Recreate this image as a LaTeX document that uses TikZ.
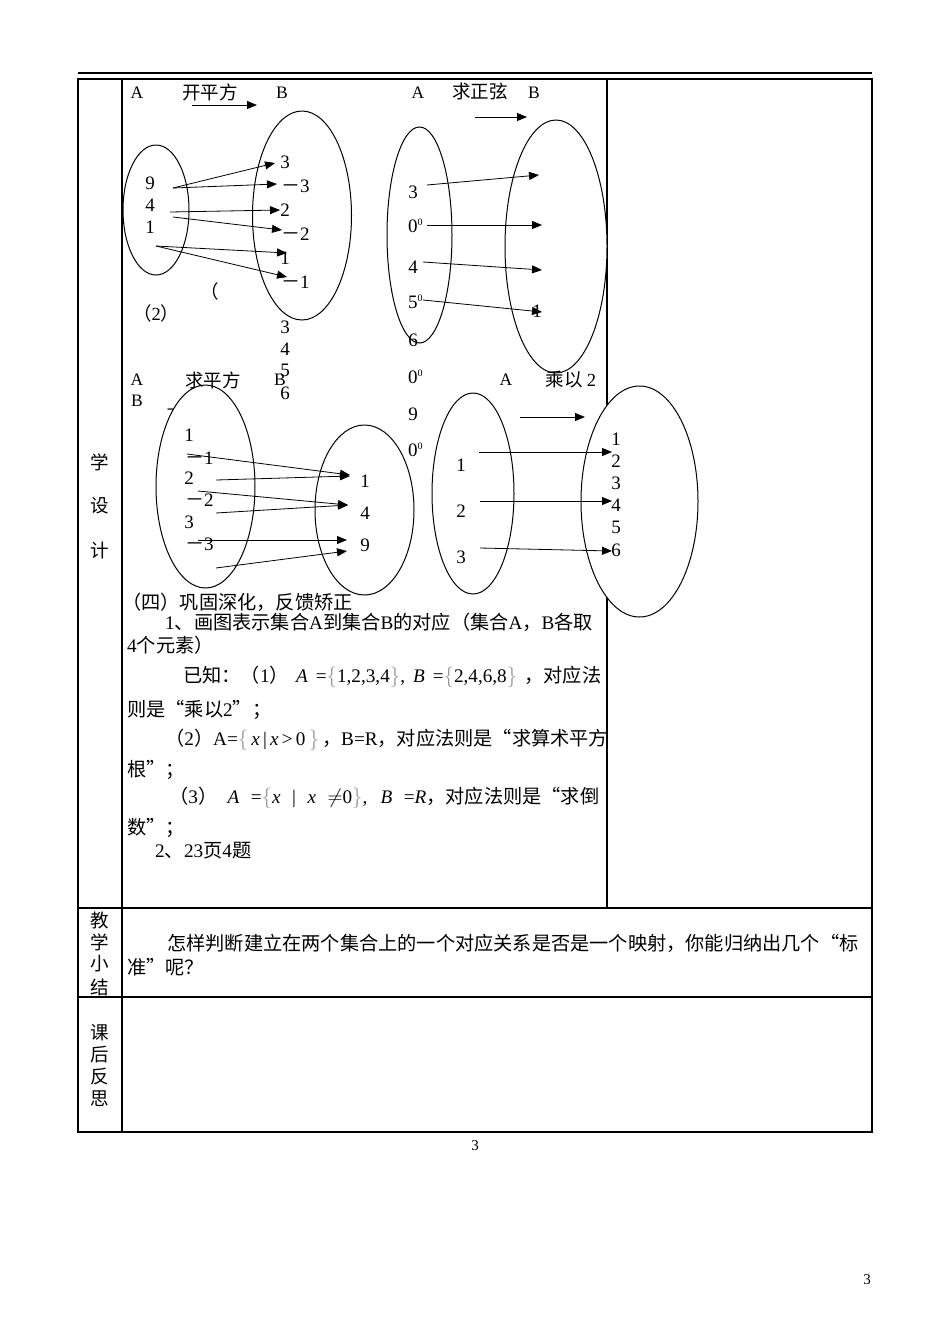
\documentclass[tikz,border=0pt]{standalone}
\usepackage{fontspec}
\setmainfont{Liberation Serif}
\newfontfamily\cjk{Noto Sans CJK SC}
\usetikzlibrary{arrows.meta}
\newcommand{\lat}[1]{{\rmfamily #1}}
\newcommand{\up}[1]{\raisebox{7pt}{\fontsize{10}{10}\selectfont #1}}
\newcommand{\lb}{{\color{black!40}$\bigl\{$}}
\newcommand{\rb}{{\color{black!40}$\bigr\}$}}

\begin{document}
\begin{tikzpicture}[x=1pt,y=-1pt,
  txt/.style={font=\fontsize{19.2}{21}\selectfont\cjk,inner sep=0pt,anchor=west},
  hd/.style={font=\fontsize{18.5}{20}\selectfont\cjk,inner sep=0pt},
  setlbl/.style={font=\fontsize{17.5}{17.5}\selectfont,inner sep=0pt},
  num/.style={font=\fontsize{19}{19}\selectfont,inner sep=0pt},
  neg/.style={num,anchor=west},
  blob/.style={draw,fill=white,line width=1pt},
  ar/.style={-{Triangle[length=10pt,width=8pt]},line width=0.8pt},
  tbl/.style={line width=1.2pt}]
\useasboundingbox (0,0) rectangle (950,1342);

% table frame
\draw[line width=1.8pt] (78,73) -- (872,73);
\draw[tbl] (78,79) rectangle (872,1132);
\draw[tbl] (122,79) -- (122,1132);
\draw[tbl] (607,79) -- (607,908);
\draw[tbl] (78,908) -- (872,908);
\draw[tbl] (78,997) -- (872,997);
\foreach \c/\y [count=\i] in {学/462,设/506,计/550,教/920,学/942,小/964,结/987,课/1033,后/1055,反/1077,思/1099}
  \node[hd] (side\i) at (100,\y) {\c};

% loose text behind the sets
\node[hd,anchor=west] (paren) at (200,291) {（};
\node[hd,anchor=west] (two) at (133,313) {（\lat{2}）};
\foreach \d/\y [count=\i] in {3/327,4/349,5/370,6/393}
  \node[num] (loose\i) at (285,\y) {\d};
\node[hd] (dash) at (175,413) {－};

% sets
\draw[blob] (156,210) ellipse [x radius=33pt,y radius=65pt];
\draw[blob] (302,215.5) ellipse [x radius=49.5pt,y radius=104.5pt];
\draw[blob] (419.5,235) ellipse [x radius=32.5pt,y radius=108pt];
\draw[blob] (556,246.5) ellipse [x radius=51pt,y radius=126.5pt];
\draw[blob] (205.5,486.5) ellipse [x radius=49.5pt,y radius=101.5pt];
\draw[blob] (364.5,510) ellipse [x radius=49.5pt,y radius=85pt];
\draw[blob] (473,493.5) ellipse [x radius=41pt,y radius=100.5pt];
\draw[blob] (639.5,501.5) ellipse [x radius=58.5pt,y radius=115.5pt];

% headings
\node[setlbl] (a1) at (137,93) {A};
\node[hd] (f1) at (210,92) {开平方};
\node[setlbl] (b1) at (282,93) {B};
\node[setlbl] (a2) at (418,93) {A};
\node[hd] (f2) at (480,92) {求正弦};
\node[setlbl] (b2) at (534,93) {B};
\node[setlbl] (a3) at (137,380) {A};
\node[hd] (f3) at (213,380) {求平方};
\node[setlbl] (b3) at (280,380) {B};
\node[setlbl] (b3x) at (137,401) {B};
\node[setlbl] (a4) at (506,380) {A};
\node[hd] (f4) at (571,380) {乘以 \lat{2}};

% map 1
\foreach \d/\y [count=\i] in {9/183,4/205,1/227}
  \node[num] (p\i) at (150,\y) {\d};
\node[num] (q1) at (285,162) {3};
\node[neg] (q2) at (281,186) {{\cjk －}3};
\node[num] (q3) at (285,210) {2};
\node[neg] (q4) at (281,234) {{\cjk －}2};
\node[num] (q5) at (285,258) {1};
\node[neg] (q6) at (281,282) {{\cjk －}1};

% map 2
\node[num] (u1) at (413,192) {3};
\node[num,anchor=west] (u2) at (408,225.5) {0\up{0}};
\node[num] (u3) at (413,267) {4};
\node[num,anchor=west] (u4) at (408,302) {5\up{0}};
\node[num] (u5) at (413,340) {6};
\node[num,anchor=west] (u6) at (408,377) {0\up{0}};
\node[num] (u7) at (413,414) {9};
\node[num,anchor=west] (u8) at (408,450) {0\up{0}};
\node[num] (v1) at (537,311) {1};

% map 3
\node[num] (g1) at (189,435) {1};
\node[neg] (g2) at (185,458) {{\cjk －}1};
\node[num] (g3) at (189,478) {2};
\node[neg] (g4) at (185,500) {{\cjk －}2};
\node[num] (g5) at (189,522) {3};
\node[neg] (g6) at (185,544) {{\cjk －}3};
\foreach \d/\y [count=\i] in {1/481,4/513,9/545}
  \node[num] (h\i) at (365,\y) {\d};

% map 4
\foreach \d/\y [count=\i] in {1/465,2/511,3/557}
  \node[num] (m\i) at (461,\y) {\d};
\foreach \d/\y [count=\i] in {1/439,2/461,3/483,4/505,5/527,6/550}
  \node[num] (n\i) at (616,\y) {\d};

% arrows
\foreach \k/\sx/\sy/\ex/\ey in {
  1/192/105/257/105, 2/173/188/275/163, 3/173/188/277/184, 4/170/212/280/210,
  5/173/217/282/230, 6/156/246/287/253, 7/156/246/287/277,
  8/475/117/527/117, 9/427/185/539/175, 10/427/225/542/225, 11/423/262/542/270,
  12/423/300/542/312,
  13/187/454/350/475, 14/216/480/350/476, 15/198/491/348/505, 16/216/513/348/505,
  17/198/540/347/540, 18/216/568/347/551,
  19/520/417/585/417, 20/479/452/612/452, 21/480/501/612/501, 22/480/548/612/551}
{
  \coordinate (s\k) at (\sx,\sy);
  \coordinate (e\k) at (\ex,\ey);
  \draw[ar] (s\k) -- (e\k);
}

% exercise text
\node[txt] (t1) at (122,602) {（四）巩固深化，反馈矫正};
\node[txt] (t2) at (165,622) {\lat{1}、画图表示集合\lat{A}到集合\lat{B}的对应（集合\lat{A}，\lat{B}各取};
\node[txt] (t3) at (127,645) {\lat{4}个元素）};
\node[txt] (t4) at (183,677) {\makebox[418pt][s]{已知：（\lat{1}） \lat{\textit{A} =}\lb\lat{1,2,3,4}\rb\lat{,} \lat{\textit{B} =}\lb\lat{2,4,6,8}\rb\ ，对应法}};
\node[txt] (t5) at (127,710) {则是“乘以\lat{2}”；};
\node[txt] (t6) at (165,740) {\makebox[432pt][s]{（\lat{2}）\lat{A=}\lb\lat{ \textit{x} | \textit{x} > 0 }\rb\ ，\lat{B=R}，对应法则是“求算术平方}};
\node[txt] (t7) at (127,770) {根”；};
\node[txt] (t8) at (169,798) {\makebox[430pt][s]{（\lat{3}） \lat{\textit{A} =}\lb\lat{\textit{x} | \textit{x} $\neq$0}\rb\lat{, \textit{B} =\textit{R}}，对应法则是“求倒}};
\node[txt] (t9) at (127,828) {数”；};
\node[txt] (t10) at (155,851) {\lat{2}、\lat{23}页\lat{4}题};

% summary row
\node[txt] (w1) at (167,943) {怎样判断建立在两个集合上的一个对应关系是否是一个映射，你能归纳出几个“标};
\node[txt] (w2) at (127,967) {准”呢？};

% page numbers
\node[num,font=\fontsize{15}{15}\selectfont] (pg1) at (475,1146) {3};
\node[num,font=\fontsize{15}{15}\selectfont] (pg2) at (867,1280) {3};
\end{tikzpicture}
\end{document}
